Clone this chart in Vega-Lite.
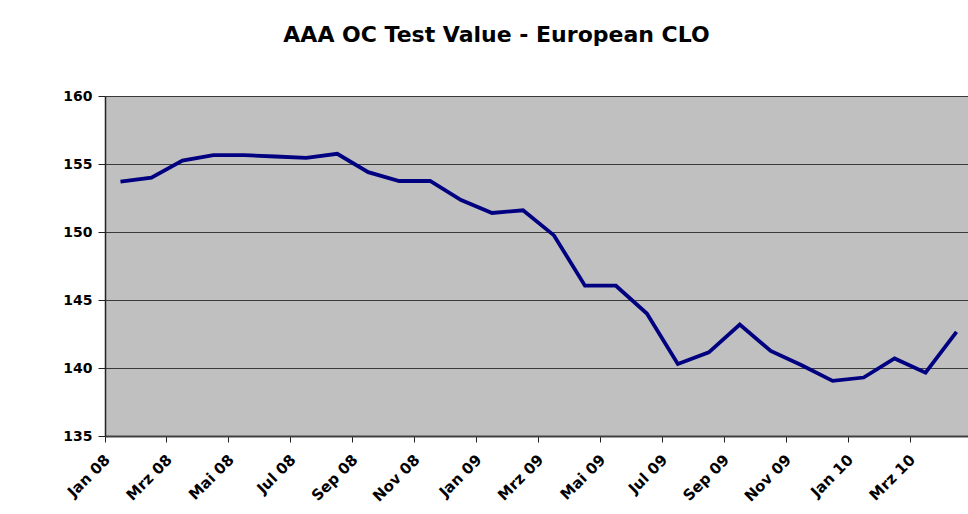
{
  "$schema": "https://vega.github.io/schema/vega-lite/v6.json",
  "width": 863,
  "height": 340,
  "autosize": {"type": "none"},
  "padding": {"left": 105, "top": 96, "right": 0, "bottom": 78},
  "background": "white",
  "title": {
    "text": "AAA OC Test Value - European CLO",
    "font": "DejaVu Sans",
    "fontSize": 22,
    "fontWeight": "bold",
    "color": "black",
    "anchor": "middle",
    "frame": "group",
    "dx": -40,
    "offset": 42
  },
  "data": {
    "values": [
      {"month": "Jan 08", "value": 153.7},
      {"month": "Feb 08", "value": 154.0},
      {"month": "Mrz 08", "value": 155.25},
      {"month": "Apr 08", "value": 155.65},
      {"month": "Mai 08", "value": 155.65},
      {"month": "Jun 08", "value": 155.55},
      {"month": "Jul 08", "value": 155.45},
      {"month": "Aug 08", "value": 155.75},
      {"month": "Sep 08", "value": 154.4},
      {"month": "Okt 08", "value": 153.75},
      {"month": "Nov 08", "value": 153.75},
      {"month": "Dez 08", "value": 152.35},
      {"month": "Jan 09", "value": 151.4},
      {"month": "Feb 09", "value": 151.6},
      {"month": "Mrz 09", "value": 149.75},
      {"month": "Apr 09", "value": 146.05},
      {"month": "Mai 09", "value": 146.05},
      {"month": "Jun 09", "value": 144.0},
      {"month": "Jul 09", "value": 140.3},
      {"month": "Aug 09", "value": 141.15},
      {"month": "Sep 09", "value": 143.2},
      {"month": "Okt 09", "value": 141.25},
      {"month": "Nov 09", "value": 140.2},
      {"month": "Dez 09", "value": 139.05},
      {"month": "Jan 10", "value": 139.3},
      {"month": "Feb 10", "value": 140.7},
      {"month": "Mrz 10", "value": 139.65},
      {"month": "Apr 10", "value": 142.65}
    ]
  },
  "mark": {"type": "line", "color": "#000080", "strokeWidth": 3.8},
  "encoding": {
    "x": {
      "field": "month",
      "type": "ordinal",
      "sort": null,
      "bandPosition": 0.5,
      "scale": {"type": "band", "paddingInner": 0, "paddingOuter": 0, "range": [0, 867]},
      "axis": {
        "values": ["Jan 08", "Mrz 08", "Mai 08", "Jul 08", "Sep 08", "Nov 08", "Jan 09", "Mrz 09", "Mai 09", "Jul 09", "Sep 09", "Nov 09", "Jan 10", "Mrz 10"],
        "bandPosition": 0,
        "labelAngle": -45,
        "labelFont": "DejaVu Sans",
        "labelFontWeight": "bold",
        "labelFontSize": 15,
        "labelColor": "black",
        "labelPadding": 10,
        "labelOffset": -18,
        "tickSize": 6,
        "tickColor": "#222",
        "domainColor": "#404040",
        "domainWidth": 2,
        "grid": false,
        "title": null
      }
    },
    "y": {
      "field": "value",
      "type": "quantitative",
      "scale": {"domain": [135, 160], "nice": false, "zero": false},
      "axis": {
        "values": [135, 140, 145, 150, 155, 160],
        "labelFont": "DejaVu Sans",
        "labelFontWeight": "bold",
        "labelFontSize": 14,
        "labelColor": "black",
        "labelPadding": 6,
        "tickSize": 7,
        "tickColor": "#222",
        "domainColor": "#222",
        "domainWidth": 1.5,
        "grid": true,
        "gridColor": "#3a3a3a",
        "gridWidth": 1,
        "gridOpacity": 1,
        "title": null
      }
    }
  },
  "config": {
    "view": {"fill": "#C0C0C0", "stroke": "#808080", "strokeWidth": 1}
  }
}
